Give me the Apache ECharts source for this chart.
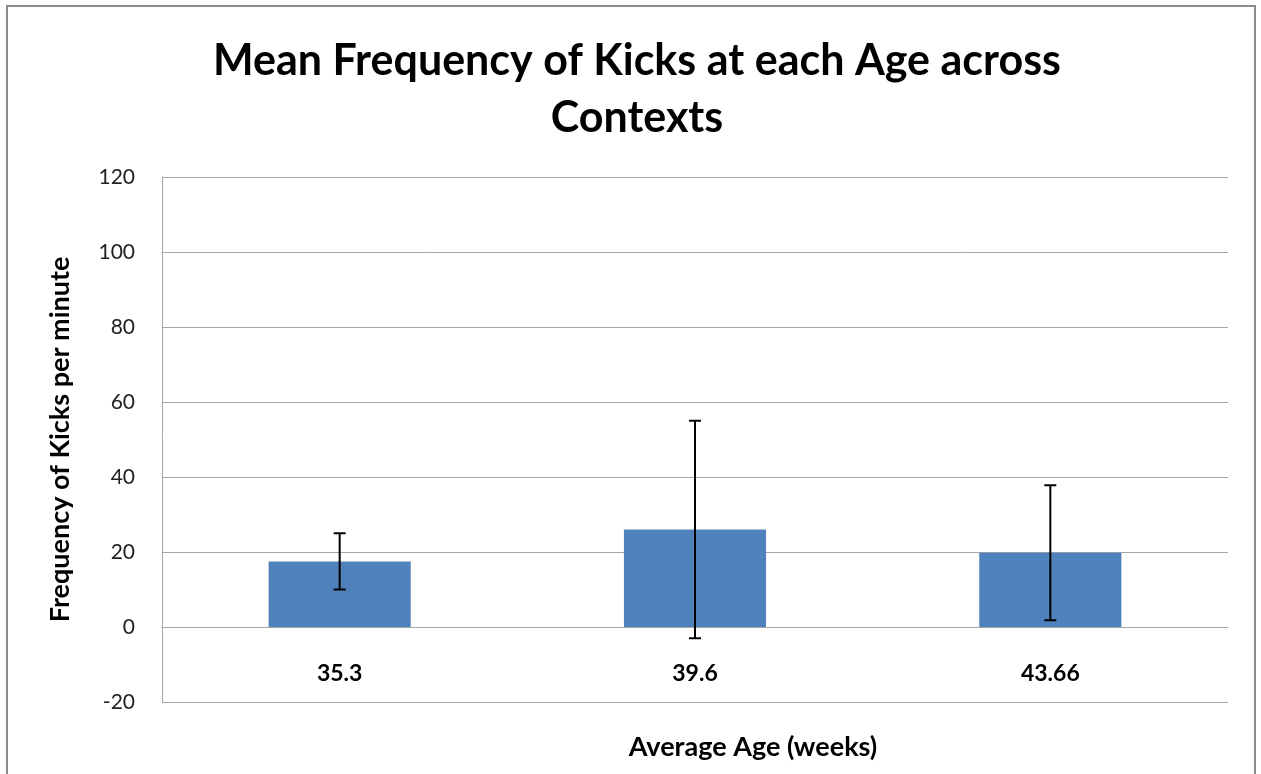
<!DOCTYPE html>
<html>
<head>
<meta charset="utf-8">
<script src="https://cdn.jsdelivr.net/npm/echarts@6/dist/echarts.min.js"></script>
<style>
  html, body { margin: 0; padding: 0; background: #fff; }
  #chart { width: 1261px; height: 774px; }
</style>
</head>
<body>
<div id="chart"></div>
<script>
var categories = ['35.3', '39.6', '43.66'];
var meanKicks = [17.5, 26, 19.8];
var errKicks = [7.5, 29, 18];
var yTicks = { min: -20, max: 120, step: 20 };

var errData = categories.map(function (c, i) {
  return [i, meanKicks[i] - errKicks[i], meanKicks[i] + errKicks[i]];
});

var chart = echarts.init(document.getElementById('chart'));

chart.setOption({
  animation: false,
  backgroundColor: '#fff',
  title: [
    {
      text: 'Mean Frequency of Kicks at each Age across\nContexts',
      left: 632, top: 28, textAlign: 'center',
      textStyle: { fontFamily: 'Lato', fontWeight: 'bold', fontSize: 43, lineHeight: 57, color: '#000' }
    },
    {
      text: 'Average Age (weeks)',
      left: 748, top: 729, textAlign: 'center',
      textStyle: { fontFamily: 'Lato', fontWeight: 'bold', fontSize: 27, color: '#000' }
    }
  ],
  graphic: [{
    type: 'rect',
    shape: { x: 7, y: 6, width: 1248, height: 800 },
    style: { fill: 'none', stroke: '#8c8c8c', lineWidth: 2 },
    silent: true
  }],
  grid: { left: 162, right: 33, top: 177, bottom: 72 },
  xAxis: {
    type: 'category',
    data: categories,
    offset: -75,
    axisLine: { onZero: false, lineStyle: { color: '#a6a6a6' } },
    axisTick: { show: false },
    axisLabel: { margin: 35, fontFamily: 'Lato', fontWeight: 'bold', fontSize: 23, color: '#000' }
  },
  yAxis: {
    type: 'value',
    min: yTicks.min, max: yTicks.max, interval: yTicks.step,
    name: 'Frequency of Kicks per minute',
    nameLocation: 'middle',
    nameGap: 88,
    nameTextStyle: { fontFamily: 'Lato', fontWeight: 'bold', fontSize: 27, color: '#000' },
    axisLine: { show: true, lineStyle: { color: '#a6a6a6' } },
    axisTick: { show: false },
    axisLabel: { margin: 27, fontFamily: 'Lato', fontSize: 21, color: '#222' },
    splitLine: { showMinLine: true, lineStyle: { color: '#a6a6a6', width: 1 } }
  },
  series: [
    {
      type: 'bar',
      data: meanKicks,
      barCategoryGap: '60%',
      itemStyle: { color: '#4f81bd' }
    },
    {
      type: 'custom',
      data: errData,
      z: 10,
      renderItem: function (params, api) {
        var x = api.value(0);
        var lo = api.coord([x, api.value(1)]);
        var hi = api.coord([x, api.value(2)]);
        var cap = 6;
        var st = { stroke: '#000', lineWidth: 2 };
        return {
          type: 'group',
          children: [
            { type: 'line', shape: { x1: hi[0], y1: hi[1], x2: lo[0], y2: lo[1] }, style: st },
            { type: 'line', shape: { x1: hi[0] - cap, y1: hi[1], x2: hi[0] + cap, y2: hi[1] }, style: st },
            { type: 'line', shape: { x1: lo[0] - cap, y1: lo[1], x2: lo[0] + cap, y2: lo[1] }, style: st }
          ]
        };
      }
    }
  ]
});
</script>
</body>
</html>
